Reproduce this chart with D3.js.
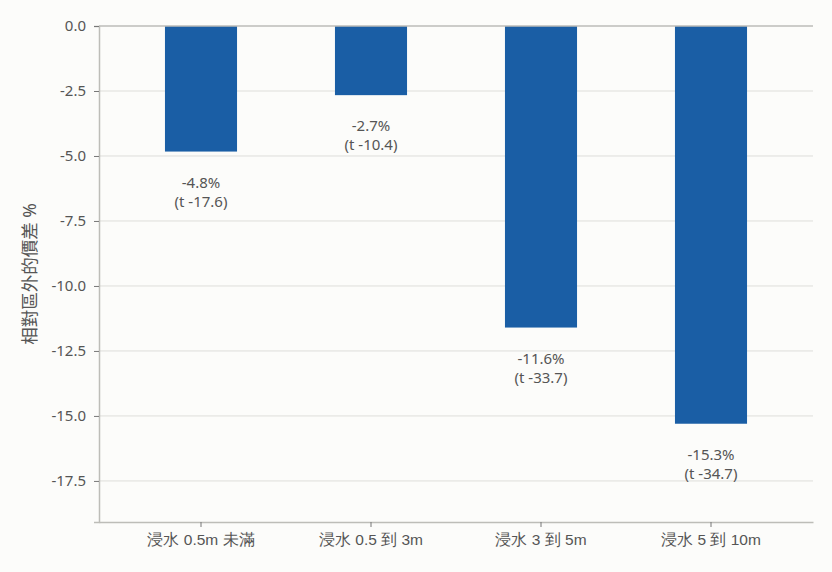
<!DOCTYPE html>
<html><head><meta charset="utf-8">
<script src="https://cdn.jsdelivr.net/npm/d3@7"></script>
<style>
html,body{margin:0;padding:0;background:#fcfcfa;}
svg{display:block;font-family:"Noto Sans","Noto Sans CJK TC",sans-serif;}
</style></head>
<body><svg id="chart" width="832" height="572"></svg>
<script>
const categories = ["浸水 0.5m 未滿", "浸水 0.5 到 3m", "浸水 3 到 5m", "浸水 5 到 10m"];
const values = [-4.83, -2.66, -11.6, -15.3];
const tStats = [-17.6, -10.4, -33.7, -34.7];
const yTicks = [0, -2.5, -5, -7.5, -10, -12.5, -15, -17.5];
const yTitle = "相對區外的價差 %";

const W = 832, H = 572;
const m = {left: 99, right: 19, top: 26, bottom: 50};
const svg = d3.select("#chart");
const x = d3.scaleBand().domain(categories).range([m.left, W - m.right]).paddingInner(0.576).paddingOuter(0.388);
const y = d3.scaleLinear().domain([-19.08, 0]).range([H - m.bottom, m.top]);

const textCol = "#555";
const axisCol = "#bdbdb8";
const gridCol = "#dededa";
const fmt = v => v.toFixed(1);

// gridlines
svg.append("g").selectAll("line").data(yTicks.filter(d => d !== 0)).join("line")
  .attr("x1", m.left).attr("x2", W - m.right)
  .attr("y1", d => y(d)).attr("y2", d => y(d))
  .attr("stroke", gridCol).attr("stroke-width", 1);

// bars
svg.append("g").selectAll("rect").data(values).join("rect")
  .attr("x", (d, i) => x(categories[i]))
  .attr("width", x.bandwidth())
  .attr("y", y(0))
  .attr("height", d => y(d) - y(0))
  .attr("fill", "#1a5ea5");

// zero line
svg.append("line").attr("x1", m.left).attr("x2", W - m.right)
  .attr("y1", y(0)).attr("y2", y(0)).attr("stroke", axisCol).attr("stroke-width", 1.5);

// y axis
const yAxis = svg.append("g").attr("transform", `translate(${m.left},0)`)
  .call(d3.axisLeft(y).tickValues(yTicks).tickFormat(fmt).tickSize(5).tickPadding(8));
yAxis.select(".domain").attr("stroke", axisCol).attr("stroke-width", 1.5);
yAxis.selectAll(".tick line").attr("stroke", "#777");
yAxis.selectAll("text").attr("fill", textCol).style("font-size", "15px").style("font-family", "'Noto Sans',sans-serif");

// x axis
const xAxis = svg.append("g").attr("transform", `translate(0,${H - m.bottom})`)
  .call(d3.axisBottom(x).tickSize(5).tickPadding(7).tickSizeOuter(0));
xAxis.select(".domain").attr("stroke", axisCol).attr("stroke-width", 1.5);
xAxis.selectAll(".tick line").attr("stroke", "#777");
xAxis.selectAll("text").attr("fill", textCol).style("font-size", "15.5px");

// value labels
const lab = svg.append("g").attr("fill", textCol).attr("text-anchor", "middle").style("font-size", "15px");
values.forEach((v, i) => {
  const cx = x(categories[i]) + x.bandwidth() / 2;
  const yb = y(v);
  lab.append("text").attr("x", cx).attr("y", yb + 36).text(fmt(v) + "%");
  lab.append("text").attr("x", cx).attr("y", yb + 55).text("(t " + fmt(tStats[i]) + ")");
});

// y title
svg.append("text")
  .attr("transform", `translate(36,${(m.top + H - m.bottom) / 2}) rotate(-90)`)
  .attr("text-anchor", "middle").attr("fill", textCol).style("font-size", "17.5px")
  .text(yTitle);
</script></body></html>
